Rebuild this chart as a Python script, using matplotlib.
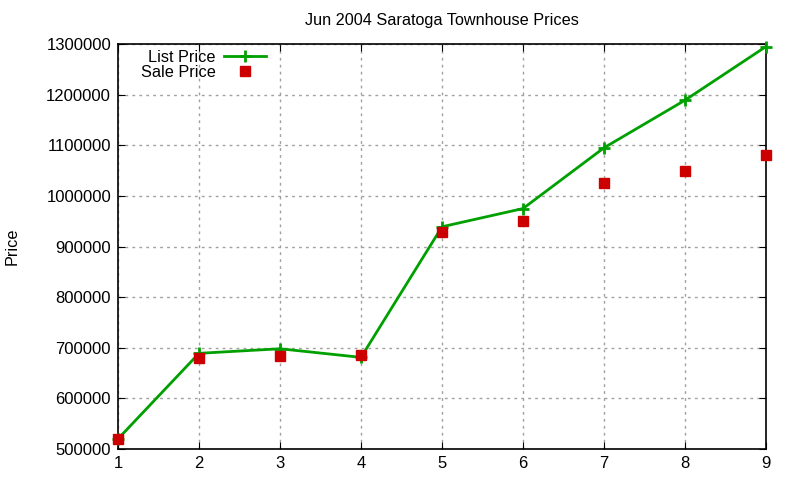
import matplotlib
matplotlib.use("Agg")
import matplotlib.pyplot as plt

plt.rcParams['font.family'] = ['Liberation Sans', 'DejaVu Sans']

homes = [1, 2, 3, 4, 5, 6, 7, 8, 9]
list_price = [520000, 689000, 698000, 681000, 939000, 975000, 1095000, 1189000, 1295000]
sale_price = [520000, 680000, 684000, 686000, 929000, 950000, 1025000, 1050000, 1080000]
yticks = [500000, 600000, 700000, 800000, 900000, 1000000, 1100000, 1200000, 1300000]

fig = plt.figure(figsize=(8, 4.8), dpi=100)
ax = fig.add_axes([0.1475, 0.0646, 0.81, 0.8437])

ax.plot(homes, list_price, color='#00a000', lw=2, marker='+', ms=9, mew=2,
        label='List Price', clip_on=False, zorder=3)
ax.plot(homes, sale_price, ls='none', color='#cc0000', marker='s', ms=7,
        label='Sale Price', clip_on=False, zorder=4)

ax.set_xlim(1, 9)
ax.set_ylim(500000, 1300000)
ax.set_xticks(homes)
ax.set_yticks(yticks)
ax.set_yticklabels([str(v) for v in yticks])
ax.tick_params(direction='in', top=True, right=True, labelsize=12, length=5, pad=5)
ax.grid(True, color='#a0a0a0', ls=(0, (2, 3)), lw=1)
for s in ax.spines.values():
    s.set_linewidth(1.2)

ax.set_ylabel('Price', fontsize=11.7)
ax.yaxis.set_label_coords(-0.152, 0.5)
ax.set_title('Jun 2004 Saratoga Townhouse Prices', fontsize=11.7, pad=14)

leg = ax.legend(loc='upper left', bbox_to_anchor=(0.035, 0.985), frameon=False,
                markerfirst=False, fontsize=11.7, handlelength=2.6,
                handletextpad=0.5, labelspacing=0.0, borderaxespad=0,
                borderpad=0)
for t in leg.get_texts():
    t.set_ha('right')

fig.savefig('out.png', dpi=100)
